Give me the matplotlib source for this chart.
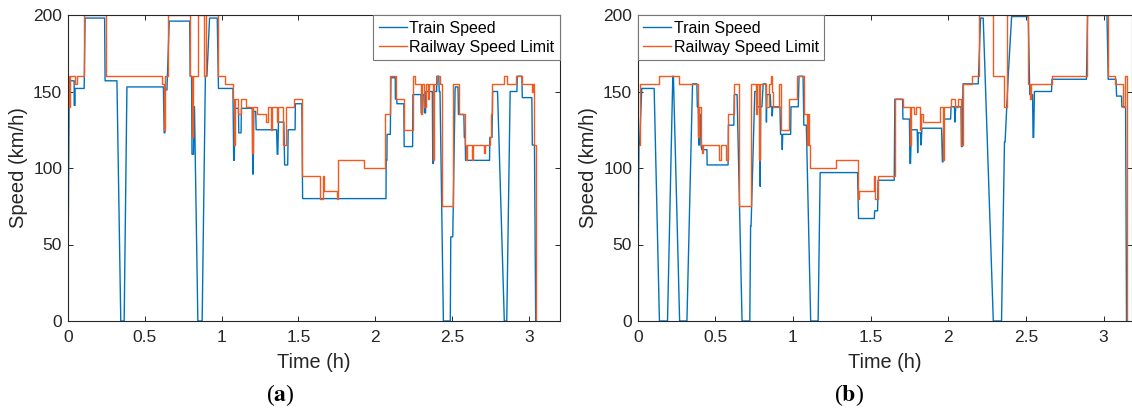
import matplotlib
matplotlib.use("Agg")
import matplotlib.pyplot as plt
from matplotlib.lines import Line2D

plt.rcParams["font.family"] = ["Liberation Sans", "DejaVu Sans"]
plt.rcParams["mathtext.fontset"] = "stix"

# (time h, speed km/h) breakpoints of the train speed, panel (a)
train_a = [
    (0, 0), (0.010, 157), (0.042, 157), (0.042, 141), (0.048, 141), (0.048, 152),
    (0.107, 152), (0.113, 198), (0.240, 198), (0.243, 157), (0.320, 157), (0.345, 0),
    (0.367, 0), (0.385, 153), (0.622, 153), (0.627, 123), (0.632, 123), (0.634, 151),
    (0.645, 151), (0.660, 196), (0.793, 196), (0.796, 160), (0.805, 160), (0.808, 109),
    (0.818, 109), (0.820, 140), (0.824, 140), (0.846, 0), (0.874, 0), (0.895, 160),
    (0.905, 160), (0.922, 198), (0.972, 198), (0.980, 152), (1.074, 152), (1.079, 105),
    (1.083, 105), (1.087, 139), (1.110, 139), (1.112, 123), (1.127, 123), (1.129, 139),
    (1.200, 139), (1.203, 96), (1.206, 96), (1.209, 137), (1.222, 137), (1.225, 125),
    (1.358, 125), (1.362, 109), (1.366, 109), (1.370, 130), (1.405, 130), (1.410, 102),
    (1.430, 102), (1.433, 125), (1.478, 125), (1.480, 142), (1.522, 142), (1.527, 80),
    (2.069, 80), (2.070, 105), (2.075, 105), (2.076, 122), (2.097, 122), (2.101, 159),
    (2.129, 159), (2.130, 145), (2.139, 145), (2.140, 142), (2.185, 142), (2.187, 114),
    (2.242, 114), (2.244, 148), (2.296, 148), (2.298, 136), (2.306, 136), (2.308, 148),
    (2.318, 148), (2.320, 136), (2.326, 136), (2.328, 150), (2.370, 150), (2.373, 103),
    (2.377, 103), (2.380, 150), (2.398, 150), (2.400, 160), (2.412, 160), (2.415, 150),
    (2.420, 150), (2.442, 0), (2.487, 0), (2.490, 55), (2.503, 55), (2.518, 151),
    (2.520, 153), (2.537, 153), (2.540, 135), (2.575, 135), (2.578, 120), (2.584, 120),
    (2.586, 105), (2.742, 105), (2.744, 120), (2.758, 120), (2.762, 150), (2.794, 150),
    (2.838, 0), (2.854, 0), (2.876, 150), (2.920, 150), (2.922, 160), (2.952, 160),
    (2.955, 146), (3.017, 146), (3.020, 115), (3.034, 115), (3.042, 0),
]

# (start time h, limit km/h) of each speed-limit section, panel (a)
limit_a = [
    (0, 160), (0.008, 140), (0.014, 160), (0.048, 155), (0.063, 160), (0.105, 200),
    (0.248, 160), (0.615, 155), (0.626, 125), (0.632, 160), (0.652, 200), (0.793, 160),
    (0.810, 120), (0.816, 160), (0.846, 200), (0.884, 160), (0.898, 200), (0.975, 160),
    (1.020, 155), (1.074, 145), (1.080, 115), (1.085, 145), (1.110, 135), (1.128, 145),
    (1.160, 140), (1.200, 110), (1.207, 140), (1.232, 135), (1.290, 130), (1.302, 140),
    (1.322, 125), (1.330, 140), (1.360, 130), (1.370, 140), (1.402, 115), (1.422, 140),
    (1.474, 145), (1.524, 95), (1.641, 80), (1.660, 95), (1.665, 85), (1.748, 80),
    (1.758, 105), (1.928, 100), (2.064, 135), (2.097, 160), (2.135, 145), (2.187, 125),
    (2.242, 160), (2.258, 155), (2.296, 135), (2.302, 155), (2.318, 140), (2.326, 155),
    (2.345, 145), (2.350, 155), (2.372, 105), (2.378, 155), (2.400, 160), (2.418, 155),
    (2.436, 75), (2.506, 155), (2.543, 135), (2.582, 115), (2.590, 105), (2.596, 115),
    (2.626, 105), (2.632, 115), (2.708, 110), (2.714, 115), (2.742, 120), (2.752, 135),
    (2.760, 155), (2.837, 160), (2.858, 155), (2.912, 160), (2.955, 155), (3.018, 150),
    (3.023, 155), (3.032, 115), (3.046, 0),
]

# (time h, speed km/h) breakpoints of the train speed, panel (b)
train_b = [
    (0, 0), (0.008, 115), (0.012, 115), (0.026, 152), (0.106, 152), (0.140, 0),
    (0.192, 0), (0.226, 160), (0.230, 160), (0.270, 0), (0.317, 0), (0.353, 155),
    (0.381, 155), (0.384, 140), (0.390, 140), (0.393, 115), (0.397, 115), (0.399, 135),
    (0.405, 135), (0.408, 115), (0.412, 112), (0.446, 112), (0.447, 102), (0.582, 102),
    (0.584, 128), (0.619, 128), (0.622, 148), (0.640, 148), (0.672, 0), (0.722, 0),
    (0.727, 62), (0.730, 62), (0.754, 150), (0.768, 150), (0.770, 140), (0.786, 140),
    (0.789, 88), (0.792, 140), (0.800, 140), (0.808, 155), (0.826, 155), (0.829, 130),
    (0.832, 148), (0.854, 148), (0.857, 140), (0.864, 140), (0.866, 134), (0.870, 140),
    (0.916, 140), (0.920, 122), (0.928, 122), (0.931, 112), (0.934, 122), (0.985, 122),
    (0.987, 140), (1.034, 140), (1.039, 160), (1.065, 160), (1.070, 128), (1.086, 128),
    (1.114, 0), (1.162, 0), (1.175, 97), (1.416, 97), (1.422, 67), (1.524, 67),
    (1.526, 72), (1.545, 72), (1.548, 92), (1.652, 92), (1.656, 145), (1.706, 145),
    (1.708, 132), (1.750, 132), (1.753, 103), (1.757, 103), (1.762, 125), (1.800, 125),
    (1.803, 110), (1.806, 123), (1.822, 123), (1.825, 115), (1.830, 126), (1.957, 126),
    (1.962, 104), (1.966, 104), (1.972, 132), (2.015, 132), (2.018, 140), (2.040, 140),
    (2.043, 130), (2.048, 140), (2.082, 140), (2.085, 114), (2.090, 114), (2.095, 155),
    (2.193, 155), (2.208, 198), (2.225, 198), (2.290, 0), (2.343, 0), (2.362, 117),
    (2.366, 117), (2.386, 160), (2.408, 199), (2.515, 199), (2.525, 148), (2.543, 148),
    (2.546, 120), (2.550, 120), (2.555, 150), (2.665, 150), (2.668, 158), (2.890, 158),
    (2.897, 200), (3.022, 200), (3.030, 158), (3.080, 158), (3.084, 147), (3.116, 147),
    (3.118, 140), (3.142, 140), (3.148, 0),
]

# (start time h, limit km/h) of each speed-limit section, panel (b)
limit_b = [
    (0, 115), (0.015, 155), (0.140, 160), (0.267, 155), (0.386, 148), (0.390, 120),
    (0.394, 140), (0.406, 115), (0.412, 110), (0.418, 115), (0.522, 105), (0.534, 115),
    (0.570, 105), (0.580, 135), (0.618, 155), (0.655, 75), (0.730, 155), (0.762, 135),
    (0.768, 155), (0.782, 105), (0.790, 155), (0.827, 140), (0.845, 155), (0.860, 160),
    (0.866, 150), (0.874, 140), (0.913, 155), (0.925, 125), (0.975, 145), (1.028, 160),
    (1.068, 135), (1.088, 115), (1.094, 135), (1.103, 115), (1.108, 100), (1.280, 105),
    (1.418, 80), (1.425, 85), (1.524, 95), (1.528, 80), (1.545, 95), (1.655, 145),
    (1.706, 140), (1.752, 115), (1.760, 140), (1.782, 135), (1.790, 140), (1.815, 125),
    (1.822, 135), (1.836, 130), (1.946, 140), (1.966, 105), (1.972, 140), (2.015, 145),
    (2.045, 140), (2.060, 145), (2.084, 115), (2.092, 155), (2.150, 160), (2.195, 200),
    (2.285, 160), (2.360, 140), (2.380, 200), (2.515, 155), (2.524, 145), (2.530, 155),
    (2.665, 160), (2.893, 200), (3.030, 160), (3.072, 155), (3.125, 140), (3.140, 160),
    (3.148, 0),
]

x_ticks = [0, 0.5, 1, 1.5, 2, 2.5, 3]
x_tick_labels = ["0", "0.5", "1", "1.5", "2", "2.5", "3"]
y_ticks = [0, 50, 100, 150, 200]
series_names = ["Train Speed", "Railway Speed Limit"]
panel_tags = ["a", "b"]

BLUE = "#0072BD"
ORANGE = "#F25A1E"
INK = "#262626"

W, H = 1132, 412
fig = plt.figure(figsize=(W / 100, H / 100), dpi=100)

AX_BOTTOM, AX_TOP = 321, 15
ax_a = fig.add_axes([67.7 / W, 1 - AX_BOTTOM / H, (560 - 67.7) / W, (AX_BOTTOM - AX_TOP) / H])
ax_b = fig.add_axes([637.7 / W, 1 - AX_BOTTOM / H, (1131.5 - 637.7) / W, (AX_BOTTOM - AX_TOP) / H])


def draw_panel(ax, train, limit, xmax, legend_loc, tag, cx, left_px, right_px):
    tt, tv = zip(*train)
    lt, lv = zip(*limit)
    ax.plot(tt, tv, color=BLUE, lw=1.0)
    ax.plot(lt, lv, color=ORANGE, lw=1.0, drawstyle="steps-post")
    ax.set_xlim(0, xmax)
    ax.set_ylim(0, 200)
    ax.set_xticks(x_ticks)
    ax.set_xticklabels(x_tick_labels)
    ax.set_yticks(y_ticks)
    ax.tick_params(direction="in", length=3.8, width=0.7, top=True, right=True,
                   labelsize=12.5, colors=INK)
    ax.tick_params(axis="x", pad=6.2)
    ax.tick_params(axis="y", pad=4.0)
    for sp in ax.spines.values():
        sp.set_color(INK)
        sp.set_linewidth(0.8)
    ax.set_xlabel("Time (h)", fontsize=14.3, color=INK)
    ax.set_ylabel("Speed (km/h)", fontsize=14.5, color=INK)
    width_px = right_px - left_px
    ax.xaxis.set_label_coords(0.5, (AX_BOTTOM - 362.5) / (AX_BOTTOM - AX_TOP))
    ax.xaxis.label.set_va("center")
    ax.yaxis.set_label_coords(-49.5 / width_px, 0.5)
    ax.yaxis.label.set_va("center")
    handles = [Line2D([], [], color=BLUE, lw=1.0), Line2D([], [], color=ORANGE, lw=1.0)]
    leg = ax.legend(handles, series_names, loc=legend_loc, fontsize=11.5,
                    frameon=True, fancybox=False, framealpha=1, edgecolor="#777777",
                    borderaxespad=0, borderpad=0.35, handlelength=1.75,
                    handletextpad=0.15, labelspacing=0.25)
    leg.get_frame().set_linewidth(0.8)
    fig.text(cx, 1 - 395 / H, "($\\mathbf{" + tag + "}$)", ha="center", va="center",
             fontsize=17, family="Liberation Serif", color="black")


draw_panel(ax_a, train_a, limit_a, 3.2, "upper right", panel_tags[0], 280 / W, 67.7, 560)
draw_panel(ax_b, train_b, limit_b, 3.18, "upper left", panel_tags[1], 849 / W, 637.7, 1131.5)

fig.savefig("out.png", dpi=100)
